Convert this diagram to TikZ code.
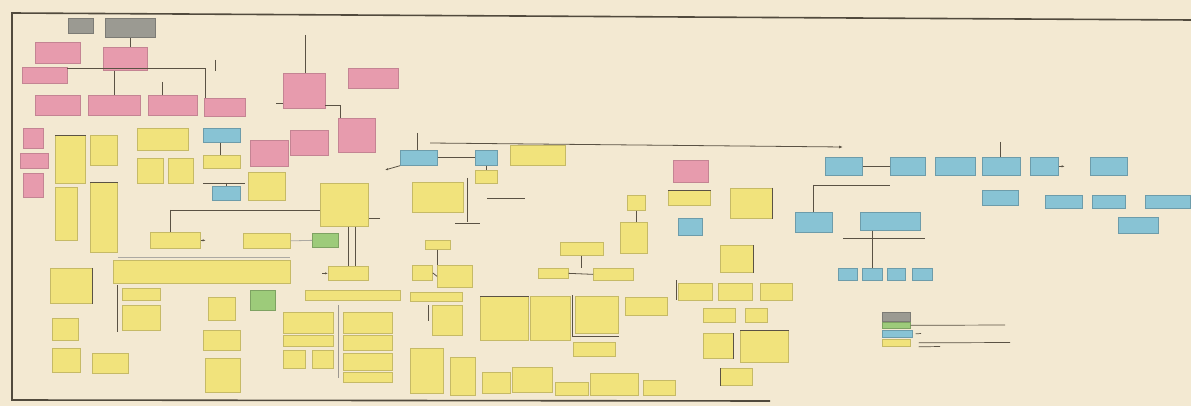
\documentclass[tikz,border=0pt]{standalone}
\usetikzlibrary{arrows.meta}
\definecolor{bgc}{HTML}{F3E9D2}
\definecolor{pinkc}{HTML}{E79BAD}
\definecolor{yelc}{HTML}{F1E37C}
\definecolor{cyanc}{HTML}{88C3D4}
\definecolor{grayc}{HTML}{9B9A92}
\definecolor{grnc}{HTML}{9DCB7A}
\definecolor{inkc}{HTML}{5A5244}
\tikzset{
  bxbase/.style={inner sep=0pt,anchor=north west,line width=0.7pt},
  pk/.style={bxbase,fill=pinkc,draw=pinkc!85!black},
  yl/.style={bxbase,fill=yelc,draw=yelc!82!black},
  cy/.style={bxbase,fill=cyanc,draw=cyanc!80!black},
  gy/.style={bxbase,fill=grayc,draw=grayc!80!black},
  gn/.style={bxbase,fill=grnc,draw=grnc!80!black},
  wire/.style={draw=inkc,line width=0.8pt},
  frame/.style={draw=inkc!90!black,line width=1.6pt},
  txl/.style={draw=inkc,line width=0.7pt}
}
\newcommand\bx[6]{\node[#2,minimum width=#5-#3,minimum height=#6-#4] (#1) at (#3,#4) {};}
\begin{document}
\begin{tikzpicture}[x=1pt,y=-1pt]
\fill[bgc] (0,0) rectangle (1191,406);
\useasboundingbox (0,0) rectangle (1191,406);
% frame
\coordinate (ftl) at (12,13);
\coordinate (ftr) at (1191,20);
\coordinate (fbl) at (12,400);
\coordinate (fbr) at (770,401);
\draw[frame] (ftr) -- (ftl) -- (fbl) -- (fbr);
% gray
\bx{g1}{gy}{68}{18}{93}{33}
\bx{g2}{gy}{105}{18}{155}{37}
% pink
\bx{p1}{pk}{35}{42}{80}{63}
\bx{p2}{pk}{103}{47}{147}{70}
\bx{p3}{pk}{22}{67}{67}{83}
\bx{p4}{pk}{35}{95}{80}{115}
\bx{p5}{pk}{88}{95}{140}{115}
\bx{p6}{pk}{148}{95}{197}{115}
\bx{p7}{pk}{204}{98}{245}{116}
\bx{p8}{pk}{283}{73}{325}{108}
\bx{p9}{pk}{348}{68}{398}{88}
\bx{p10}{pk}{290}{130}{328}{155}
\bx{p11}{pk}{338}{118}{375}{152}
\bx{p12}{pk}{250}{140}{288}{166}
\bx{p13}{pk}{23}{128}{43}{148}
\bx{p14}{pk}{20}{153}{48}{168}
\bx{p15}{pk}{23}{173}{43}{197}
\bx{p16}{pk}{673}{160}{708}{182}
% cyan
\bx{c1}{cy}{203}{128}{240}{142}
\bx{c2}{cy}{212}{186}{240}{200}
\bx{c3}{cy}{400}{150}{437}{165}
\bx{c4}{cy}{475}{150}{497}{165}
\bx{c5}{cy}{678}{218}{702}{235}
\bx{c6}{cy}{795}{212}{832}{232}
\bx{c7}{cy}{860}{212}{920}{230}
\bx{c8}{cy}{825}{157}{862}{175}
\bx{c9}{cy}{890}{157}{925}{175}
\bx{c10}{cy}{935}{157}{975}{175}
\bx{c11}{cy}{982}{157}{1020}{175}
\bx{c12}{cy}{1030}{157}{1058}{175}
\bx{c13}{cy}{1090}{157}{1127}{175}
\bx{c14}{cy}{982}{190}{1018}{205}
\bx{c15}{cy}{1045}{195}{1082}{208}
\bx{c16}{cy}{1092}{195}{1125}{208}
\bx{c17}{cy}{1145}{195}{1190}{208}
\bx{c18}{cy}{1118}{217}{1158}{233}
\bx{c19}{cy}{838}{268}{857}{280}
\bx{c20}{cy}{862}{268}{882}{280}
\bx{c21}{cy}{887}{268}{905}{280}
\bx{c22}{cy}{912}{268}{932}{280}
% green
\bx{gr1}{gn}{312}{233}{338}{247}
\bx{gr2}{gn}{250}{290}{275}{310}
% yellow
\bx{y1}{yl}{55}{135}{85}{183}
\bx{y2}{yl}{55}{187}{77}{240}
\bx{y3}{yl}{90}{135}{117}{165}
\bx{y4}{yl}{90}{182}{117}{252}
\bx{y5}{yl}{137}{128}{188}{150}
\bx{y6}{yl}{137}{158}{163}{183}
\bx{y7}{yl}{168}{158}{193}{183}
\bx{y8}{yl}{203}{155}{240}{168}
\bx{y9}{yl}{248}{172}{285}{200}
\bx{y10}{yl}{320}{183}{368}{226}
\bx{y11}{yl}{412}{182}{463}{212}
\bx{y12}{yl}{475}{170}{497}{183}
\bx{y13}{yl}{510}{145}{565}{165}
\bx{y14}{yl}{150}{232}{200}{248}
\bx{y15}{yl}{243}{233}{290}{248}
\bx{y16}{yl}{328}{266}{368}{280}
\bx{y17}{yl}{113}{260}{290}{283}
\bx{y18}{yl}{305}{290}{400}{300}
\bx{y19}{yl}{50}{268}{92}{303}
\bx{y20}{yl}{122}{288}{160}{300}
\bx{y21}{yl}{122}{305}{160}{330}
\bx{y22}{yl}{208}{297}{235}{320}
\bx{y23}{yl}{203}{330}{240}{350}
\bx{y24}{yl}{205}{358}{240}{392}
\bx{y25}{yl}{52}{318}{78}{340}
\bx{y26}{yl}{52}{348}{80}{372}
\bx{y27}{yl}{92}{353}{128}{373}
\bx{y28}{yl}{283}{312}{333}{333}
\bx{y29}{yl}{283}{335}{333}{346}
\bx{y30}{yl}{283}{350}{305}{368}
\bx{y31}{yl}{312}{350}{333}{368}
\bx{y32}{yl}{343}{312}{392}{333}
\bx{y33}{yl}{343}{335}{392}{350}
\bx{y34}{yl}{343}{353}{392}{370}
\bx{y35}{yl}{343}{372}{392}{382}
\bx{y36}{yl}{425}{240}{450}{249}
\bx{y37}{yl}{412}{265}{432}{280}
\bx{y38}{yl}{437}{265}{472}{287}
\bx{y39}{yl}{410}{292}{462}{301}
\bx{y40}{yl}{432}{305}{462}{335}
\bx{y41}{yl}{480}{296}{528}{340}
\bx{y42}{yl}{530}{296}{570}{340}
\bx{y43}{yl}{575}{296}{618}{333}
\bx{y44}{yl}{573}{342}{615}{356}
\bx{y45}{yl}{625}{297}{667}{315}
\bx{y46}{yl}{560}{242}{603}{255}
\bx{y47}{yl}{538}{268}{568}{278}
\bx{y48}{yl}{593}{268}{633}{280}
\bx{y49}{yl}{627}{195}{645}{210}
\bx{y50}{yl}{620}{222}{647}{253}
\bx{y51}{yl}{668}{190}{710}{205}
\bx{y52}{yl}{730}{188}{772}{218}
\bx{y53}{yl}{720}{245}{753}{272}
\bx{y54}{yl}{678}{283}{712}{300}
\bx{y55}{yl}{718}{283}{752}{300}
\bx{y56}{yl}{760}{283}{792}{300}
\bx{y57}{yl}{703}{308}{735}{322}
\bx{y58}{yl}{745}{308}{767}{322}
\bx{y59}{yl}{703}{333}{733}{358}
\bx{y60}{yl}{740}{330}{788}{362}
\bx{y61}{yl}{720}{368}{752}{385}
\bx{y62}{yl}{410}{348}{443}{393}
\bx{y63}{yl}{450}{357}{475}{395}
\bx{y64}{yl}{482}{372}{510}{393}
\bx{y65}{yl}{512}{367}{552}{392}
\bx{y66}{yl}{555}{382}{588}{395}
\bx{y67}{yl}{590}{373}{638}{395}
\bx{y68}{yl}{643}{380}{675}{395}
% connectors, left cluster
\draw[wire] (g2.south) -- (g2.south |- p2.north);
\coordinate (bus1a) at (67,68);
\coordinate (bus1b) at (205,68);
\draw[wire] (bus1a) -- (bus1b) -- (bus1b |- p7.north);
\draw[wire] (p2.south -| p5.north) -- (p5.north);
\coordinate (t6) at (162,82);
\draw[wire] (t6) -- (t6 |- p6.north);
\coordinate (tk1) at (215,60);
\coordinate (tk2) at (215,71);
\draw[wire] (tk1) -- (tk2);
\coordinate (v8) at (305,35);
\draw[wire] (v8) -- (v8 |- p8.north);
\coordinate (p8r) at (325,105);
\draw[wire] (p8r) -| (p11.north -| 340,0);
\coordinate (p8l) at (276,103);
\draw[wire] (p8l) -- (p8l -| p8.west);
\draw[wire] (c1.south -| 220,0) -- (y8.north -| 220,0);
\coordinate (c2a) at (203,183);
\coordinate (c2b) at (245,183);
\draw[wire] (c2a) -- (c2b);
\draw[wire] (c2a -| c2.north) -- (c2.north);
\coordinate (h210) at (170,210);
\draw[wire] (h210) -- (h210 -| y10.west);
\draw[wire] (h210) -- (h210 |- y14.north);
\draw[wire,-{Latex[length=3pt]}] (y14.east) -- ++(5,0);
\draw[wire] (y10.south -| 348,0) -- (y16.north -| 348,0);
\draw[wire] (y10.south -| 355,0) -- (y16.north -| 355,0);
\draw[wire,{Latex[length=3pt]}-] (y16.west) -- ++(-6,0);
\coordinate (r10) at (380,218);
\draw[wire] (r10) -- (r10 -| y10.east);
\draw[wire,draw=inkc!50] (y15.east) -- (gr1.west);
\coordinate (s17a) at (118,257);
\coordinate (s17b) at (290,257);
\draw[wire,draw=inkc!50] (s17a) -- (s17b);
\coordinate (v117a) at (117,285);
\coordinate (v117b) at (117,332);
\draw[wire] (v117a) -- (v117b);
\coordinate (v338a) at (338,305);
\coordinate (v338b) at (338,378);
\draw[wire,draw=inkc!60] (v338a) -- (v338b);
\draw[wire] (y1.north west) -- (y1.north east);
\draw[wire] (y4.north west) -- (y4.north east);
\draw[wire] (y19.north east) -- (y19.south east);
% middle
\draw[wire] (c3.east) -- (c4.west);
\draw[wire] (c4.south) -- (y12.north);
\coordinate (tk3) at (417,133);
\draw[wire] (tk3) -- (tk3 |- c3.north);
\coordinate (lg1) at (430,143);
\coordinate (lg2) at (843,147);
\draw[wire,-{Latex[length=4pt]}] (lg1) -- (lg2);
\coordinate (c3x) at (385,170);
\draw[wire,-{Latex[length=3pt]}] (c3.south west) -- (c3x);
\coordinate (v467a) at (467,178);
\coordinate (v467b) at (467,222);
\draw[wire] (v467a) -- (v467b);
\coordinate (h198a) at (487,198);
\coordinate (h198b) at (525,198);
\draw[wire] (h198a) -- (h198b);
\coordinate (h223a) at (455,223);
\coordinate (h223b) at (480,223);
\draw[wire] (h223a) -- (h223b);
\draw[wire] (y36.south -| 437,0) -- (y38.north -| 437,0);
\draw[wire] (y37.east) -- (y38.west);
\coordinate (v428) at (428,305);
\draw[wire] (v428) -- ++(0,16);
\draw[wire] (y47.east) -- (y48.west);
\draw[wire] (y46.south) -- (y46.south |- y48.north);
\draw[wire] (y49.south) -- (y49.south |- y50.north);
\coordinate (v572a) at (572,295);
\coordinate (v572b) at (572,336);
\draw[wire] (v572a) -- (v572b) -- (v572b -| y43.east);
\draw[wire] (y51.north west) -- (y51.north east);
\draw[wire] (y52.north east) -- (y52.south east);
\draw[wire] (y53.north east) -- (y53.south east);
\coordinate (v676) at (676,280);
\draw[wire] (v676) -- ++(0,20);
\draw[wire] (y59.north east) -- (y59.south east);
\draw[wire] (y60.north west) -- (y60.north east);
\draw[wire] (y61.north west) -- (y61.south west);
\draw[wire] (y41.north west) -- (y41.north east);
% right cluster
\draw[wire] (c8.east) -- (c9.west);
\draw[wire,-{Latex[length=3pt]}] (c12.east) -- ++(6,0);
\coordinate (v1000) at (1000,142);
\draw[wire] (v1000) -- (v1000 |- c11.north);
\coordinate (h185a) at (813,185);
\coordinate (h185b) at (890,185);
\draw[wire] (h185a) -- (h185b);
\draw[wire] (h185a) -- (h185a |- c6.north);
\coordinate (h238a) at (843,238);
\coordinate (h238b) at (925,238);
\draw[wire] (h238a) -- (h238b);
\draw[wire] (c7.south -| c20.north) -- (c20.north);
% legend
\bx{lg1b}{gy}{882}{312}{910}{321}
\bx{lg2b}{gn}{882}{322}{910}{328}
\bx{lg3b}{cy}{882}{330}{912}{337}
\bx{lg4b}{yl}{882}{339}{910}{346}
\coordinate (lt1) at (1005,325);
\coordinate (lt2) at (921,333.5);
\coordinate (lt3) at (1010,342.5);
\coordinate (lt4) at (940,346.5);
\draw[txl] (lg2b.east) -- (lt1);
\draw[txl] (lg3b.east) ++(3,0) -- (lt2);
\draw[txl] (lg4b.east) ++(8,0) -- (lt3);
\draw[txl] (lg4b.east) ++(8,4) -- (lt4);
\end{tikzpicture}
\end{document}
